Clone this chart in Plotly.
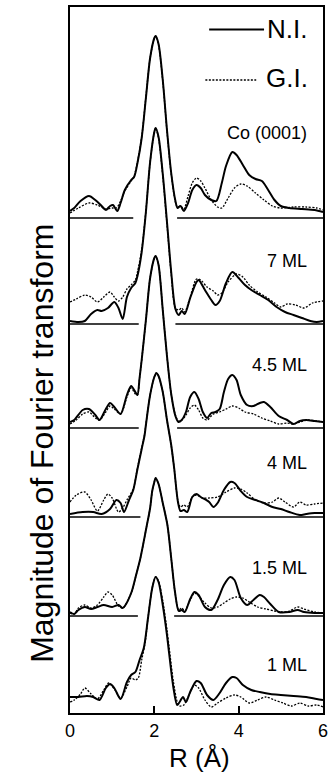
import plotly.graph_objects as go

# ---------------- data ----------------
samples = ["Co (0001)", "7 ML", "4.5 ML", "4 ML", "1.5 ML", "1 ML"]
offsets = [495, 389, 285, 196, 97, 0]          # vertical stacking offset of each sample
label_heights = [85, 63, 63, 54, 48, 48]        # label height above its own baseline
gap_start = [1.5, 1.63, 1.63, 1.67, 1.61]       # break in each baseline (R, Å)
gap_end = [2.54, 2.5, 2.54, 2.58, 2.47]
x_ticks = [0, 2, 4, 6]

co_ni_r = [0.0, 0.1, 0.25, 0.45, 0.6, 0.75, 0.85, 0.95, 1.02, 1.12, 1.2, 1.3, 1.45, 1.52, 1.6, 1.7, 1.8, 1.9, 2.0, 2.03,
           2.1, 2.2, 2.3, 2.4, 2.5, 2.55, 2.62, 2.7, 2.8, 2.9, 3.0, 3.1, 3.2, 3.35, 3.47, 3.6, 3.7, 3.85, 3.95, 4.1,
           4.25, 4.4, 4.55, 4.7, 4.85, 5.0, 5.2, 5.5, 5.8, 6.0]
co_ni_v = [7, 10, 17, 22, 18, 12, 8, 12, 13, 7, 15, 28, 38, 41, 55, 80, 120, 160, 180, 182,
           174, 138, 88, 45, 17, 10, 12, 7, 15, 28, 33, 30, 23, 18, 17, 35, 52, 66, 63, 53,
           43, 39, 37, 28, 18, 12, 10, 9, 8, 6]
co_gi_r = [0.0, 0.2, 0.45, 0.65, 0.85, 1.0, 1.1, 1.2, 1.3, 1.45, 1.52, 1.6, 1.7, 1.8, 1.9, 2.0, 2.03, 2.1, 2.2, 2.3,
           2.4, 2.5, 2.55, 2.62, 2.7, 2.8, 2.9, 3.0, 3.1, 3.2, 3.35, 3.5, 3.6, 3.75, 3.9, 4.05, 4.2, 4.4, 4.6, 4.8,
           5.0, 5.3, 5.6, 5.85, 6.0]
co_gi_v = [5, 10, 15, 13, 9, 10, 10, 17, 27, 37, 42, 56, 81, 121, 160, 180, 182, 173, 137, 87,
           44, 16, 11, 12, 9, 22, 35, 40, 37, 30, 18, 11, 10, 20, 30, 34, 32, 25, 18, 12,
           10, 11, 11, 10, 8]

ml7_ni_r = [0.0, 0.2, 0.35, 0.5, 0.65, 0.75, 0.9, 1.05, 1.15, 1.25, 1.35, 1.45, 1.55, 1.6, 1.7, 1.8, 1.9, 2.0, 2.03, 2.1,
            2.2, 2.3, 2.4, 2.5, 2.58, 2.65, 2.72, 2.85, 3.0, 3.05, 3.2, 3.35, 3.45, 3.55, 3.7, 3.85, 4.0, 4.15, 4.3, 4.5,
            4.7, 4.9, 5.1, 5.3, 5.5, 5.7, 5.85, 6.0]
ml7_ni_v = [3, 2, 3, 10, 14, 13, 16, 22, 16, 5, 27, 36, 41, 48, 72, 112, 162, 192, 196, 187,
            150, 102, 52, 15, 9, 13, 10, 26, 42, 44, 34, 24, 19, 23, 41, 52, 46, 39, 34, 29,
            24, 17, 12, 9, 6, 3, 2, 3]
ml7_gi_r = [0.0, 0.15, 0.35, 0.5, 0.65, 0.8, 0.95, 1.05, 1.15, 1.25, 1.35, 1.45, 1.55, 1.6, 1.7, 1.8, 1.9, 2.0, 2.03, 2.1,
            2.2, 2.3, 2.4, 2.5, 2.58, 2.65, 2.72, 2.85, 3.0, 3.1, 3.25, 3.4, 3.5, 3.6, 3.75, 3.95, 4.1, 4.25, 4.45, 4.65,
            4.85, 5.0, 5.15, 5.35, 5.55, 5.75, 6.0]
ml7_gi_v = [22, 25, 29, 27, 22, 27, 32, 27, 23, 27, 35, 39, 44, 52, 74, 113, 162, 192, 196, 186,
            148, 100, 50, 16, 14, 16, 12, 27, 45, 44, 37, 33, 29, 31, 42, 50, 47, 39, 32, 27,
            21, 17, 20, 19, 16, 21, 23]

ml45_ni_r = [0.0, 0.1, 0.3, 0.45, 0.6, 0.7, 0.85, 0.95, 1.05, 1.2, 1.35, 1.45, 1.55, 1.6, 1.65, 1.7, 1.8, 1.9, 2.0, 2.03,
             2.1, 2.2, 2.3, 2.4, 2.5, 2.57, 2.65, 2.75, 2.85, 2.95, 3.05, 3.15, 3.25, 3.35, 3.45, 3.55, 3.65, 3.75, 3.85, 3.95,
             4.05, 4.2, 4.35, 4.5, 4.6, 4.75, 4.95, 5.15, 5.3, 5.45, 5.6, 5.8, 6.0]
ml45_ni_v = [6, 8, 18, 19, 13, 8, 19, 25, 21, 14, 33, 42, 36, 33, 50, 68, 108, 150, 170, 172,
             163, 118, 72, 34, 12, 6, 8, 16, 31, 36, 29, 16, 10, 15, 16, 19, 36, 49, 53, 48,
             33, 23, 22, 25, 26, 21, 12, 8, 4, 7, 8, 7, 6]
ml45_gi_r = [0.0, 0.15, 0.3, 0.45, 0.6, 0.7, 0.85, 0.95, 1.05, 1.2, 1.35, 1.45, 1.55, 1.6, 1.65, 1.7, 1.8, 1.9, 2.0, 2.03,
             2.1, 2.2, 2.3, 2.4, 2.5, 2.57, 2.65, 2.75, 2.85, 2.95, 3.05, 3.15, 3.25, 3.4, 3.55, 3.7, 3.85, 4.0, 4.15, 4.35,
             4.55, 4.75, 4.95, 5.15, 5.3, 5.45, 5.65, 5.85, 6.0]
ml45_gi_v = [4, 8, 14, 16, 10, 8, 16, 22, 19, 14, 31, 40, 34, 33, 50, 68, 108, 150, 170, 172,
             163, 118, 72, 34, 13, 7, 8, 13, 20, 23, 18, 10, 8, 14, 16, 19, 22, 20, 16, 14,
             10, 7, 4, 5, 4, 6, 8, 7, 6]

ml4_ni_r = [0.0, 0.3, 0.55, 0.75, 0.95, 1.1, 1.2, 1.28, 1.4, 1.5, 1.6, 1.7, 1.77, 1.8, 1.9, 2.0, 2.05, 2.1, 2.2, 2.3,
            2.4, 2.47, 2.56, 2.62, 2.7, 2.78, 2.9, 3.0, 3.1, 3.3, 3.4, 3.5, 3.65, 3.8, 3.9, 4.05, 4.2, 4.4, 4.6, 4.8,
            5.0, 5.2, 5.45, 5.6, 5.8, 6.0]
ml4_ni_v = [3, 5, 5, 3, 8, 17, 14, 5, 17, 27, 48, 68, 82, 92, 122, 140, 144, 141, 125, 97,
            72, 49, 15, 6, 7, 5, 20, 23, 20, 15, 10, 14, 27, 35, 34, 26, 20, 17, 14, 10,
            8, 5, 2, 3, 4, 4]
ml4_gi_r = [0.0, 0.15, 0.35, 0.5, 0.65, 0.8, 0.9, 1.0, 1.15, 1.25, 1.35, 1.5, 1.6, 1.7, 1.77, 1.8, 1.9, 2.0, 2.05, 2.1,
            2.2, 2.3, 2.4, 2.47, 2.56, 2.62, 2.7, 2.78, 2.9, 3.0, 3.15, 3.3, 3.5, 3.7, 3.9, 4.05, 4.2, 4.4, 4.6, 4.8,
            4.95, 5.1, 5.3, 5.45, 5.6, 5.8, 6.0]
ml4_gi_v = [15, 22, 25, 17, 6, 17, 23, 19, 5, 9, 17, 28, 49, 69, 83, 93, 122, 140, 144, 141,
            125, 97, 72, 49, 16, 10, 12, 10, 20, 22, 19, 19, 20, 25, 29, 28, 24, 17, 14, 15,
            19, 15, 10, 15, 12, 13, 14]

ml15_ni_r = [0.0, 0.1, 0.2, 0.35, 0.5, 0.65, 0.8, 1.0, 1.15, 1.25, 1.3, 1.46, 1.55, 1.67, 1.81, 1.9, 1.95, 2.0, 2.03, 2.1,
             2.2, 2.31, 2.4, 2.49, 2.58, 2.65, 2.72, 2.85, 2.95, 3.05, 3.2, 3.35, 3.5, 3.65, 3.8, 3.9, 4.05, 4.2, 4.35, 4.5,
             4.6, 4.75, 4.95, 5.2, 5.4, 5.55, 5.8, 6.0]
ml15_ni_v = [4, 2, 6, 9, 7, 9, 11, 9, 11, 8, 10, 24, 38, 58, 88, 108, 125, 134, 138, 132,
             113, 91, 58, 24, 5, 6, 4, 17, 24, 21, 9, 6, 16, 31, 39, 36, 18, 11, 16, 21,
             19, 12, 4, 4, 6, 4, 3, 3]
ml15_gi_r = [0.0, 0.1, 0.2, 0.35, 0.5, 0.65, 0.8, 0.9, 1.0, 1.15, 1.25, 1.3, 1.46, 1.55, 1.67, 1.81, 1.9, 1.95, 2.0, 2.03,
             2.1, 2.2, 2.31, 2.4, 2.49, 2.58, 2.65, 2.72, 2.85, 2.95, 3.05, 3.2, 3.35, 3.5, 3.65, 3.8, 3.95, 4.1, 4.25, 4.45,
             4.65, 4.85, 5.0, 5.2, 5.4, 5.55, 5.8, 6.0]
ml15_gi_v = [3, 2, 8, 11, 8, 11, 19, 24, 21, 10, 8, 10, 24, 38, 58, 88, 108, 125, 134, 138,
             132, 113, 91, 58, 24, 6, 8, 5, 16, 23, 20, 13, 8, 9, 13, 17, 19, 18, 14, 9,
             7, 5, 4, 5, 9, 7, 4, 3]

ml1_ni_r = [0.0, 0.2, 0.4, 0.55, 0.7, 0.85, 0.95, 1.05, 1.2, 1.35, 1.45, 1.55, 1.65, 1.75, 1.85, 1.95, 2.03, 2.1, 2.2, 2.3,
            2.35, 2.45, 2.54, 2.6, 2.68, 2.75, 2.85, 3.0, 3.1, 3.25, 3.4, 3.55, 3.7, 3.85, 3.95, 4.1, 4.3, 4.5, 4.75, 5.0,
            5.3, 5.6, 5.85, 6.0]
ml1_ni_v = [16, 16, 17, 16, 13, 25, 29, 25, 14, 31, 38, 41, 53, 65, 95, 125, 136, 131, 108, 78,
            60, 26, 8, 11, 16, 11, 21, 32, 30, 18, 13, 20, 30, 36, 35, 28, 23, 21, 19, 18,
            17, 16, 14, 13]
ml1_gi_r = [0.0, 0.1, 0.25, 0.35, 0.5, 0.65, 0.8, 0.92, 1.05, 1.2, 1.35, 1.45, 1.55, 1.62, 1.7, 1.78, 1.85, 1.95, 2.03, 2.1,
            2.2, 2.3, 2.35, 2.45, 2.55, 2.6, 2.7, 2.8, 2.95, 3.05, 3.2, 3.35, 3.5, 3.7, 3.9, 4.05, 4.25, 4.45, 4.65, 4.85,
            5.05, 5.25, 5.45, 5.65, 5.85, 6.0]
ml1_gi_v = [11, 13, 19, 25, 19, 14, 23, 30, 24, 15, 26, 35, 33, 35, 53, 70, 95, 125, 136, 132,
            112, 83, 66, 32, 10, 7, 8, 16, 28, 25, 13, 6, 10, 15, 18, 16, 10, 13, 16, 13,
            10, 7, 10, 7, 8, 6]

ni_series = [(co_ni_r, co_ni_v), (ml7_ni_r, ml7_ni_v), (ml45_ni_r, ml45_ni_v),
             (ml4_ni_r, ml4_ni_v), (ml15_ni_r, ml15_ni_v), (ml1_ni_r, ml1_ni_v)]
gi_series = [(co_gi_r, co_gi_v), (ml7_gi_r, ml7_gi_v), (ml45_gi_r, ml45_gi_v),
             (ml4_gi_r, ml4_gi_v), (ml15_gi_r, ml15_gi_v), (ml1_gi_r, ml1_gi_v)]

# ---------------- figure ----------------
FONT = "Arial, 'Liberation Sans', sans-serif"
DOT = "2px,1.5px"
fig = go.Figure()

# baselines with a break where the peaks pass through
for i, off in enumerate(offsets[:-1]):
    fig.add_trace(go.Scatter(
        x=[0, gap_start[i], None, gap_end[i], 6], y=[off, off, None, off, off],
        mode="lines", line=dict(color="black", width=1.6), hoverinfo="skip", showlegend=False))

for name, off, (rn, vn), (rg, vg) in zip(samples, offsets, ni_series, gi_series):
    fig.add_trace(go.Scatter(
        x=rg, y=[v + off for v in vg], mode="lines", name=name + " G.I.",
        line=dict(color="black", width=1.3, dash=DOT, shape="spline", smoothing=0.8),
        showlegend=False))
    fig.add_trace(go.Scatter(
        x=rn, y=[v + off for v in vn], mode="lines", name=name + " N.I.",
        line=dict(color="black", width=2.0, shape="spline", smoothing=0.8),
        showlegend=False))

# sample labels
for name, off, lh in zip(samples, offsets, label_heights):
    fig.add_annotation(x=5.67, y=off + lh, text=name, showarrow=False, xanchor="right",
                       yanchor="middle", font=dict(family=FONT, size=18, color="black"))

# legend drawn by hand (line sample + text)
fig.add_shape(type="line", xref="paper", yref="paper", x0=0.550, x1=0.767, y0=0.968, y1=0.968,
              line=dict(color="black", width=2))
fig.add_annotation(xref="paper", yref="paper", x=0.772, y=0.969, text="N.I.", showarrow=False,
                   xanchor="left", yanchor="middle", font=dict(family=FONT, size=26, color="black"))
fig.add_shape(type="line", xref="paper", yref="paper", x0=0.535, x1=0.736, y0=0.8966, y1=0.8966,
              line=dict(color="black", width=1.3, dash=DOT))
fig.add_annotation(xref="paper", yref="paper", x=0.768, y=0.899, text="G.I.", showarrow=False,
                   xanchor="left", yanchor="middle", font=dict(family=FONT, size=26, color="black"))

# axis titles
fig.add_annotation(xref="paper", yref="paper", x=0.51, y=-0.064, text="R (Å)", showarrow=False,
                   xanchor="center", yanchor="middle", font=dict(family=FONT, size=26, color="black"))
fig.add_annotation(xref="paper", yref="paper", x=-0.1085, y=0.382, text="Magnitude of Fourier transform",
                   showarrow=False, textangle=-90, xanchor="center", yanchor="middle",
                   font=dict(family=FONT, size=32, color="black"))

fig.update_xaxes(range=[0, 6], tickvals=x_ticks, ticktext=[str(t) for t in x_ticks],
                 ticks="inside", ticklen=7, tickwidth=1.5, tickcolor="black",
                 showline=True, linecolor="black", linewidth=2, mirror=True,
                 showgrid=False, zeroline=False,
                 tickfont=dict(family=FONT, size=18, color="black"))
fig.update_yaxes(range=[0, 706], showticklabels=False, ticks="",
                 showline=True, linecolor="black", linewidth=2, mirror=True,
                 showgrid=False, zeroline=False)

fig.update_layout(width=333, height=776, margin=dict(l=70, r=5, t=7, b=63),
                  plot_bgcolor="white", paper_bgcolor="white", showlegend=False,
                  font=dict(family=FONT, color="black"))

fig.write_html("out.html", config={"displayModeBar": False},
               post_script="document.body.style.margin='0px';document.body.style.overflow='hidden';")
